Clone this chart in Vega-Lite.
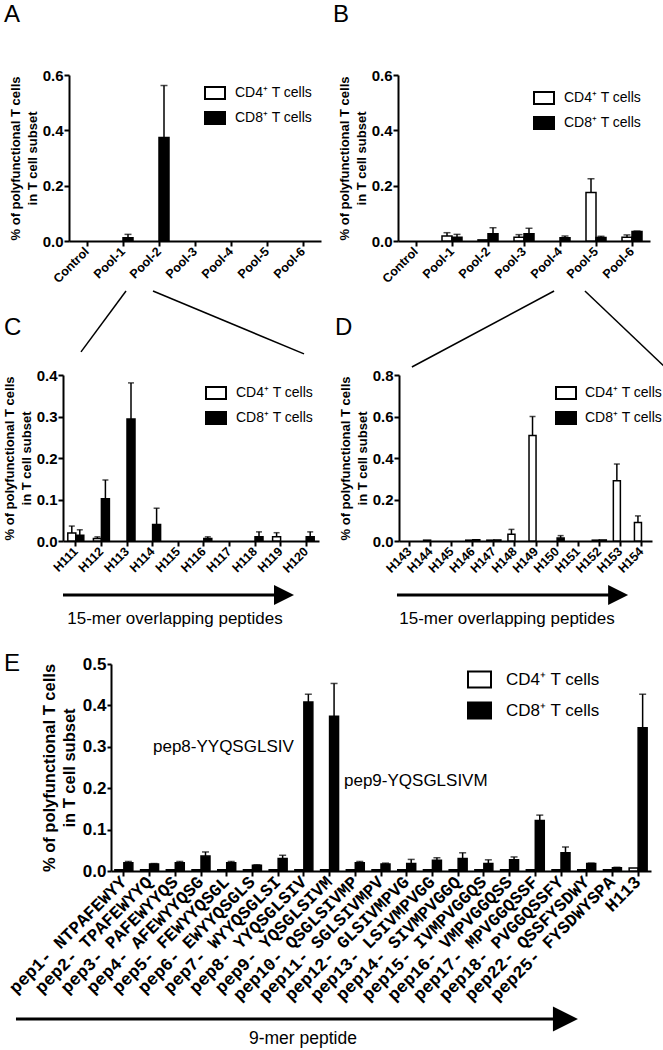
{
"$schema": "https://vega.github.io/schema/vega-lite/v6.json",
"background": "white",
"padding": {"left": 3, "top": 3, "right": 0, "bottom": 0},
"config": {
 "view": {"stroke": null},
 "font": "Liberation Sans",
 "axis": {"domainColor": "black", "domainWidth": 2, "tickColor": "black", "tickWidth": 2, "tickSize": 5, "labelColor": "black", "labelFontWeight": "bold", "titleColor": "black", "titleFontWeight": "bold", "grid": false, "labelFont": "Liberation Sans", "titleFont": "Liberation Sans"},
 "legend": {"padding": 0, "labelColor": "black", "labelFont": "Liberation Sans", "symbolStrokeColor": "black", "symbolStrokeWidth": 2},
 "text": {"color": "black"}
},
"datasets": {
 "A": [
  {"cat": "Control", "cell": "CD4⁺ T cells", "v": 0, "hi": 0}, {"cat": "Control", "cell": "CD8⁺ T cells", "v": 0, "hi": 0},
  {"cat": "Pool-1", "cell": "CD4⁺ T cells", "v": 0, "hi": 0}, {"cat": "Pool-1", "cell": "CD8⁺ T cells", "v": 0.012, "hi": 0.024},
  {"cat": "Pool-2", "cell": "CD4⁺ T cells", "v": 0, "hi": 0}, {"cat": "Pool-2", "cell": "CD8⁺ T cells", "v": 0.374, "hi": 0.562},
  {"cat": "Pool-3", "cell": "CD4⁺ T cells", "v": 0, "hi": 0}, {"cat": "Pool-3", "cell": "CD8⁺ T cells", "v": 0, "hi": 0},
  {"cat": "Pool-4", "cell": "CD4⁺ T cells", "v": 0, "hi": 0}, {"cat": "Pool-4", "cell": "CD8⁺ T cells", "v": 0, "hi": 0},
  {"cat": "Pool-5", "cell": "CD4⁺ T cells", "v": 0, "hi": 0}, {"cat": "Pool-5", "cell": "CD8⁺ T cells", "v": 0, "hi": 0},
  {"cat": "Pool-6", "cell": "CD4⁺ T cells", "v": 0, "hi": 0}, {"cat": "Pool-6", "cell": "CD8⁺ T cells", "v": 0, "hi": 0}
 ],
 "B": [
  {"cat": "Control", "cell": "CD4⁺ T cells", "v": 0, "hi": 0}, {"cat": "Control", "cell": "CD8⁺ T cells", "v": 0, "hi": 0},
  {"cat": "Pool-1", "cell": "CD4⁺ T cells", "v": 0.018, "hi": 0.030}, {"cat": "Pool-1", "cell": "CD8⁺ T cells", "v": 0.014, "hi": 0.024},
  {"cat": "Pool-2", "cell": "CD4⁺ T cells", "v": 0.004, "hi": 0.004}, {"cat": "Pool-2", "cell": "CD8⁺ T cells", "v": 0.026, "hi": 0.048},
  {"cat": "Pool-3", "cell": "CD4⁺ T cells", "v": 0.014, "hi": 0.023}, {"cat": "Pool-3", "cell": "CD8⁺ T cells", "v": 0.026, "hi": 0.046},
  {"cat": "Pool-4", "cell": "CD4⁺ T cells", "v": 0, "hi": 0}, {"cat": "Pool-4", "cell": "CD8⁺ T cells", "v": 0.012, "hi": 0.018},
  {"cat": "Pool-5", "cell": "CD4⁺ T cells", "v": 0.175, "hi": 0.225}, {"cat": "Pool-5", "cell": "CD8⁺ T cells", "v": 0.013, "hi": 0.017},
  {"cat": "Pool-6", "cell": "CD4⁺ T cells", "v": 0.014, "hi": 0.022}, {"cat": "Pool-6", "cell": "CD8⁺ T cells", "v": 0.034, "hi": 0.036}
 ],
 "C": [
  {"cat": "H111", "cell": "CD4⁺ T cells", "v": 0.019, "hi": 0.036}, {"cat": "H111", "cell": "CD8⁺ T cells", "v": 0.014, "hi": 0.027},
  {"cat": "H112", "cell": "CD4⁺ T cells", "v": 0.006, "hi": 0.010}, {"cat": "H112", "cell": "CD8⁺ T cells", "v": 0.102, "hi": 0.147},
  {"cat": "H113", "cell": "CD4⁺ T cells", "v": 0, "hi": 0}, {"cat": "H113", "cell": "CD8⁺ T cells", "v": 0.294, "hi": 0.381},
  {"cat": "H114", "cell": "CD4⁺ T cells", "v": 0, "hi": 0}, {"cat": "H114", "cell": "CD8⁺ T cells", "v": 0.040, "hi": 0.079},
  {"cat": "H115", "cell": "CD4⁺ T cells", "v": 0, "hi": 0}, {"cat": "H115", "cell": "CD8⁺ T cells", "v": 0, "hi": 0},
  {"cat": "H116", "cell": "CD4⁺ T cells", "v": 0, "hi": 0}, {"cat": "H116", "cell": "CD8⁺ T cells", "v": 0.006, "hi": 0.010},
  {"cat": "H117", "cell": "CD4⁺ T cells", "v": 0, "hi": 0}, {"cat": "H117", "cell": "CD8⁺ T cells", "v": 0, "hi": 0},
  {"cat": "H118", "cell": "CD4⁺ T cells", "v": 0, "hi": 0}, {"cat": "H118", "cell": "CD8⁺ T cells", "v": 0.010, "hi": 0.022},
  {"cat": "H119", "cell": "CD4⁺ T cells", "v": 0.010, "hi": 0.020}, {"cat": "H119", "cell": "CD8⁺ T cells", "v": 0, "hi": 0},
  {"cat": "H120", "cell": "CD4⁺ T cells", "v": 0, "hi": 0}, {"cat": "H120", "cell": "CD8⁺ T cells", "v": 0.010, "hi": 0.022}
 ],
 "D": [
  {"cat": "H143", "cell": "CD4⁺ T cells", "v": 0, "hi": 0}, {"cat": "H143", "cell": "CD8⁺ T cells", "v": 0, "hi": 0},
  {"cat": "H144", "cell": "CD4⁺ T cells", "v": 0.004, "hi": 0.004}, {"cat": "H144", "cell": "CD8⁺ T cells", "v": 0, "hi": 0},
  {"cat": "H145", "cell": "CD4⁺ T cells", "v": 0, "hi": 0}, {"cat": "H145", "cell": "CD8⁺ T cells", "v": 0, "hi": 0},
  {"cat": "H146", "cell": "CD4⁺ T cells", "v": 0.004, "hi": 0.004}, {"cat": "H146", "cell": "CD8⁺ T cells", "v": 0.006, "hi": 0.006},
  {"cat": "H147", "cell": "CD4⁺ T cells", "v": 0.004, "hi": 0.004}, {"cat": "H147", "cell": "CD8⁺ T cells", "v": 0.005, "hi": 0.005},
  {"cat": "H148", "cell": "CD4⁺ T cells", "v": 0.032, "hi": 0.056}, {"cat": "H148", "cell": "CD8⁺ T cells", "v": 0, "hi": 0},
  {"cat": "H149", "cell": "CD4⁺ T cells", "v": 0.508, "hi": 0.600}, {"cat": "H149", "cell": "CD8⁺ T cells", "v": 0, "hi": 0},
  {"cat": "H150", "cell": "CD4⁺ T cells", "v": 0, "hi": 0}, {"cat": "H150", "cell": "CD8⁺ T cells", "v": 0.014, "hi": 0.026},
  {"cat": "H151", "cell": "CD4⁺ T cells", "v": 0, "hi": 0}, {"cat": "H151", "cell": "CD8⁺ T cells", "v": 0, "hi": 0},
  {"cat": "H152", "cell": "CD4⁺ T cells", "v": 0.004, "hi": 0.004}, {"cat": "H152", "cell": "CD8⁺ T cells", "v": 0.005, "hi": 0.005},
  {"cat": "H153", "cell": "CD4⁺ T cells", "v": 0.290, "hi": 0.371}, {"cat": "H153", "cell": "CD8⁺ T cells", "v": 0, "hi": 0},
  {"cat": "H154", "cell": "CD4⁺ T cells", "v": 0.089, "hi": 0.121}, {"cat": "H154", "cell": "CD8⁺ T cells", "v": 0, "hi": 0}
 ],
 "E": [
  {"cat": "pep1- NTPAFEWYY", "cell": "CD4⁺ T cells", "v": 0.003, "hi": 0.003}, {"cat": "pep1- NTPAFEWYY", "cell": "CD8⁺ T cells", "v": 0.020, "hi": 0.023},
  {"cat": "pep2- TPAFEWYYQ", "cell": "CD4⁺ T cells", "v": 0.003, "hi": 0.003}, {"cat": "pep2- TPAFEWYYQ", "cell": "CD8⁺ T cells", "v": 0.017, "hi": 0.018},
  {"cat": "pep3- PAFEWYYQS", "cell": "CD4⁺ T cells", "v": 0.003, "hi": 0.003}, {"cat": "pep3- PAFEWYYQS", "cell": "CD8⁺ T cells", "v": 0.020, "hi": 0.023},
  {"cat": "pep4- AFEWYYQSG", "cell": "CD4⁺ T cells", "v": 0.003, "hi": 0.003}, {"cat": "pep4- AFEWYYQSG", "cell": "CD8⁺ T cells", "v": 0.036, "hi": 0.046},
  {"cat": "pep5- FEWYYQSGL", "cell": "CD4⁺ T cells", "v": 0.003, "hi": 0.003}, {"cat": "pep5- FEWYYQSGL", "cell": "CD8⁺ T cells", "v": 0.020, "hi": 0.023},
  {"cat": "pep6- EWYYQSGLS", "cell": "CD4⁺ T cells", "v": 0.003, "hi": 0.003}, {"cat": "pep6- EWYYQSGLS", "cell": "CD8⁺ T cells", "v": 0.014, "hi": 0.015},
  {"cat": "pep7- WYYQSGLSI", "cell": "CD4⁺ T cells", "v": 0.003, "hi": 0.003}, {"cat": "pep7- WYYQSGLSI", "cell": "CD8⁺ T cells", "v": 0.030, "hi": 0.038},
  {"cat": "pep8- YYQSGLSIV", "cell": "CD4⁺ T cells", "v": 0.003, "hi": 0.003}, {"cat": "pep8- YYQSGLSIV", "cell": "CD8⁺ T cells", "v": 0.408, "hi": 0.427},
  {"cat": "pep9- YQSGLSIVM", "cell": "CD4⁺ T cells", "v": 0.003, "hi": 0.003}, {"cat": "pep9- YQSGLSIVM", "cell": "CD8⁺ T cells", "v": 0.374, "hi": 0.453},
  {"cat": "pep10- QSGLSIVMP", "cell": "CD4⁺ T cells", "v": 0.003, "hi": 0.003}, {"cat": "pep10- QSGLSIVMP", "cell": "CD8⁺ T cells", "v": 0.020, "hi": 0.023},
  {"cat": "pep11- SGLSIVMPV", "cell": "CD4⁺ T cells", "v": 0.003, "hi": 0.003}, {"cat": "pep11- SGLSIVMPV", "cell": "CD8⁺ T cells", "v": 0.017, "hi": 0.019},
  {"cat": "pep12- GLSIVMPVG", "cell": "CD4⁺ T cells", "v": 0.003, "hi": 0.003}, {"cat": "pep12- GLSIVMPVG", "cell": "CD8⁺ T cells", "v": 0.018, "hi": 0.028},
  {"cat": "pep13- LSIVMPVGG", "cell": "CD4⁺ T cells", "v": 0.003, "hi": 0.003}, {"cat": "pep13- LSIVMPVGG", "cell": "CD8⁺ T cells", "v": 0.026, "hi": 0.032},
  {"cat": "pep14- SIVMPVGGQ", "cell": "CD4⁺ T cells", "v": 0.003, "hi": 0.003}, {"cat": "pep14- SIVMPVGGQ", "cell": "CD8⁺ T cells", "v": 0.030, "hi": 0.044},
  {"cat": "pep15- IVMPVGGQS", "cell": "CD4⁺ T cells", "v": 0.003, "hi": 0.003}, {"cat": "pep15- IVMPVGGQS", "cell": "CD8⁺ T cells", "v": 0.018, "hi": 0.027},
  {"cat": "pep16- VMPVGGQSS", "cell": "CD4⁺ T cells", "v": 0.003, "hi": 0.003}, {"cat": "pep16- VMPVGGQSS", "cell": "CD8⁺ T cells", "v": 0.027, "hi": 0.034},
  {"cat": "pep17- MPVGGQSSF", "cell": "CD4⁺ T cells", "v": 0.003, "hi": 0.003}, {"cat": "pep17- MPVGGQSSF", "cell": "CD8⁺ T cells", "v": 0.122, "hi": 0.135},
  {"cat": "pep18- PVGGQSSFY", "cell": "CD4⁺ T cells", "v": 0.003, "hi": 0.003}, {"cat": "pep18- PVGGQSSFY", "cell": "CD8⁺ T cells", "v": 0.044, "hi": 0.058},
  {"cat": "pep22- QSSFYSDWY", "cell": "CD4⁺ T cells", "v": 0.003, "hi": 0.003}, {"cat": "pep22- QSSFYSDWY", "cell": "CD8⁺ T cells", "v": 0.018, "hi": 0.019},
  {"cat": "pep25- FYSDWYSPA", "cell": "CD4⁺ T cells", "v": 0.003, "hi": 0.003}, {"cat": "pep25- FYSDWYSPA", "cell": "CD8⁺ T cells", "v": 0.008, "hi": 0.009},
  {"cat": "H113", "cell": "CD4⁺ T cells", "v": 0.007, "hi": 0.007}, {"cat": "H113", "cell": "CD8⁺ T cells", "v": 0.346, "hi": 0.427}
 ],
 "dA": [{"kind": "letter", "x": -0.258, "y": 1.319, "label": "A"}],
 "dB": [{"kind": "letter", "x": -0.258, "y": 1.319, "label": "B"}],
 "dC": [
  {"kind": "letter", "x": -0.26, "y": 1.241, "label": "C"},
  {"kind": "line", "x": 0.228, "y": 1.506, "x2": 0.048, "y2": 1.139},
  {"kind": "line", "x": 0.336, "y": 1.506, "x2": 0.94, "y2": 1.127},
  {"kind": "arrow", "x": -0.024, "y": -0.325, "x2": 0.83, "y2": -0.325},
  {"kind": "head", "x": 0.86, "y": -0.325},
  {"kind": "caption", "x": 0.424, "y": -0.470, "label": "15-mer overlapping peptides"}
 ],
 "dD": [
  {"kind": "letter", "x": -0.253, "y": 1.241, "label": "D"},
  {"kind": "line", "x": 0.613, "y": 1.506, "x2": 0.051, "y2": 1.048},
  {"kind": "line", "x": 0.735, "y": 1.506, "x2": 1.047, "y2": 1.054},
  {"kind": "arrow", "x": -0.008, "y": -0.325, "x2": 0.85, "y2": -0.325},
  {"kind": "head", "x": 0.866, "y": -0.325},
  {"kind": "caption", "x": 0.427, "y": -0.470, "label": "15-mer overlapping peptides"}
 ],
 "dE": [
  {"kind": "letter", "x": -0.1117, "y": 0.966, "label": "E"},
  {"kind": "note", "x": 0.1443, "y": 0.599, "label": "pep8-YYQSGLSIV"},
  {"kind": "note", "x": 0.4725, "y": 0.435, "label": "pep9-YQSGLSIVM"},
  {"kind": "arrow", "x": -0.0911, "y": -0.715, "x2": 0.842, "y2": -0.715},
  {"kind": "head", "x": 0.853, "y": -0.715},
  {"kind": "caption", "x": 0.402, "y": -0.812, "label": "9-mer peptide"}
 ]
},
"resolve": {"scale": {"fill": "independent", "xOffset": "independent"}, "legend": {"fill": "independent"}},
"spacing": 24,
"vconcat": [
 {
  "resolve": {"scale": {"fill": "independent", "xOffset": "independent"}, "legend": {"fill": "independent"}},
  "spacing": 4,
  "vconcat": [
   {
    "resolve": {"scale": {"fill": "independent", "xOffset": "independent"}, "legend": {"fill": "independent"}},
    "spacing": 11,
    "hconcat": [
     {
      "width": 252, "height": 166,
      "resolve": {"scale": {"x": "independent", "y": "independent", "xOffset": "independent"}},
      "layer": [
       {
        "data": {"name": "A"},
        "encoding": {
         "x": {"field": "cat", "type": "nominal", "scale": {"domain": ["Control", "Pool-1", "Pool-2", "Pool-3", "Pool-4", "Pool-5", "Pool-6"], "paddingInner": 0, "paddingOuter": 0}, "axis": {"title": null, "labelAngle": -45, "labelAlign": "right", "labelBaseline": "middle", "labelFontSize": 12.5, "labelPadding": 3, "labelOverlap": false, "labelLimit": 300}},
         "xOffset": {"field": "cell", "type": "nominal", "scale": {"domain": ["CD4⁺ T cells", "CD8⁺ T cells"], "paddingInner": 0, "paddingOuter": 0.8}}
        },
        "layer": [
         {"transform": [{"filter": "datum.v > 0"}], "mark": {"type": "bar", "stroke": "black", "strokeWidth": 1.5}, "encoding": {
           "y": {"field": "v", "type": "quantitative", "scale": {"domain": [0, 0.6], "nice": false}, "axis": {"title": ["% of polyfunctional T cells", "in T cell subset"], "values": [0, 0.2, 0.4, 0.6], "format": ".1f", "labelFontSize": 15, "labelPadding": 1, "titleFontSize": 13, "titleLineHeight": 17, "titlePadding": 3}},
           "fill": {"field": "cell", "type": "nominal", "scale": {"domain": ["CD4⁺ T cells", "CD8⁺ T cells"], "range": ["white", "black"]}, "legend": {"title": null, "orient": "none", "legendX": 135, "legendY": 7, "symbolType": "M-1,-0.6H1V0.6H-1Z", "symbolSize": 400, "labelFontSize": 14, "labelOffset": 9, "rowPadding": 4}}}},
         {"transform": [{"filter": "datum.hi > datum.v"}], "mark": {"type": "rule", "color": "black", "strokeWidth": 1.5}, "encoding": {"y": {"field": "v", "type": "quantitative"}, "y2": {"field": "hi"}}},
         {"transform": [{"filter": "datum.hi > datum.v"}], "mark": {"type": "tick", "orient": "horizontal", "color": "black", "thickness": 1.5, "size": 7}, "encoding": {"y": {"field": "hi", "type": "quantitative"}}}
        ]
       },
       {
        "data": {"name": "dA"},
        "encoding": {
         "x": {"field": "x", "type": "quantitative", "scale": {"domain": [0, 1], "nice": false, "zero": false}, "axis": null},
         "y": {"field": "y", "type": "quantitative", "scale": {"domain": [0, 1], "nice": false, "zero": false}, "axis": null}
        },
        "layer": [
         {"transform": [{"filter": "datum.kind == 'letter'"}], "mark": {"type": "text", "align": "left", "baseline": "alphabetic", "fontSize": 24}, "encoding": {"text": {"field": "label"}}}
        ]
       }
      ]
     },
     {
      "width": 252, "height": 166,
      "resolve": {"scale": {"x": "independent", "y": "independent", "xOffset": "independent"}},
      "layer": [
       {
        "data": {"name": "B"},
        "encoding": {
         "x": {"field": "cat", "type": "nominal", "scale": {"domain": ["Control", "Pool-1", "Pool-2", "Pool-3", "Pool-4", "Pool-5", "Pool-6"], "paddingInner": 0, "paddingOuter": 0}, "axis": {"title": null, "labelAngle": -45, "labelAlign": "right", "labelBaseline": "middle", "labelFontSize": 12.5, "labelPadding": 3, "labelOverlap": false, "labelLimit": 300}},
         "xOffset": {"field": "cell", "type": "nominal", "scale": {"domain": ["CD4⁺ T cells", "CD8⁺ T cells"], "paddingInner": 0, "paddingOuter": 0.8}}
        },
        "layer": [
         {"transform": [{"filter": "datum.v > 0"}], "mark": {"type": "bar", "stroke": "black", "strokeWidth": 1.5}, "encoding": {
           "y": {"field": "v", "type": "quantitative", "scale": {"domain": [0, 0.6], "nice": false}, "axis": {"title": ["% of polyfunctional T cells", "in T cell subset"], "values": [0, 0.2, 0.4, 0.6], "format": ".1f", "labelFontSize": 15, "labelPadding": 1, "titleFontSize": 13, "titleLineHeight": 17, "titlePadding": 3}},
           "fill": {"field": "cell", "type": "nominal", "scale": {"domain": ["CD4⁺ T cells", "CD8⁺ T cells"], "range": ["white", "black"]}, "legend": {"title": null, "orient": "none", "legendX": 135, "legendY": 12, "symbolType": "M-1,-0.6H1V0.6H-1Z", "symbolSize": 400, "labelFontSize": 14, "labelOffset": 9, "rowPadding": 4}}}},
         {"transform": [{"filter": "datum.hi > datum.v"}], "mark": {"type": "rule", "color": "black", "strokeWidth": 1.5}, "encoding": {"y": {"field": "v", "type": "quantitative"}, "y2": {"field": "hi"}}},
         {"transform": [{"filter": "datum.hi > datum.v"}], "mark": {"type": "tick", "orient": "horizontal", "color": "black", "thickness": 1.5, "size": 7}, "encoding": {"y": {"field": "hi", "type": "quantitative"}}}
        ]
       },
       {
        "data": {"name": "dB"},
        "encoding": {
         "x": {"field": "x", "type": "quantitative", "scale": {"domain": [0, 1], "nice": false, "zero": false}, "axis": null},
         "y": {"field": "y", "type": "quantitative", "scale": {"domain": [0, 1], "nice": false, "zero": false}, "axis": null}
        },
        "layer": [
         {"transform": [{"filter": "datum.kind == 'letter'"}], "mark": {"type": "text", "align": "left", "baseline": "alphabetic", "fontSize": 24}, "encoding": {"text": {"field": "label"}}}
        ]
       }
      ]
     }
    ]
   },
   {
    "resolve": {"scale": {"fill": "independent", "xOffset": "independent"}, "legend": {"fill": "independent"}},
    "spacing": 9,
    "hconcat": [
     {
      "width": 250, "height": 166,
      "resolve": {"scale": {"x": "independent", "y": "independent", "xOffset": "independent"}},
      "layer": [
       {
        "data": {"name": "C"},
        "encoding": {
         "x": {"field": "cat", "type": "nominal", "scale": {"domain": ["H111", "H112", "H113", "H114", "H115", "H116", "H117", "H118", "H119", "H120"], "range": [-6, 250], "paddingInner": 0, "paddingOuter": 0}, "axis": {"title": null, "labelAngle": -45, "labelAlign": "right", "labelBaseline": "middle", "labelFontSize": 12.5, "labelPadding": 3, "labelOverlap": false, "labelLimit": 300}},
         "xOffset": {"field": "cell", "type": "nominal", "scale": {"domain": ["CD4⁺ T cells", "CD8⁺ T cells"], "paddingInner": 0, "paddingOuter": 0.6}}
        },
        "layer": [
         {"transform": [{"filter": "datum.v > 0"}], "mark": {"type": "bar", "stroke": "black", "strokeWidth": 1.5}, "encoding": {
           "y": {"field": "v", "type": "quantitative", "scale": {"domain": [0, 0.4], "nice": false}, "axis": {"title": ["% of polyfunctional T cells", "in T cell subset"], "values": [0, 0.1, 0.2, 0.3, 0.4], "format": ".1f", "offset": 6, "labelFontSize": 15, "labelPadding": 1, "titleFontSize": 13, "titleLineHeight": 17, "titlePadding": 3}},
           "fill": {"field": "cell", "type": "nominal", "scale": {"domain": ["CD4⁺ T cells", "CD8⁺ T cells"], "range": ["white", "black"]}, "legend": {"title": null, "orient": "none", "legendX": 136, "legendY": 7, "symbolType": "M-1,-0.6H1V0.6H-1Z", "symbolSize": 400, "labelFontSize": 14, "labelOffset": 9, "rowPadding": 4}}}},
         {"transform": [{"filter": "datum.hi > datum.v"}], "mark": {"type": "rule", "color": "black", "strokeWidth": 1.5}, "encoding": {"y": {"field": "v", "type": "quantitative"}, "y2": {"field": "hi"}}},
         {"transform": [{"filter": "datum.hi > datum.v"}], "mark": {"type": "tick", "orient": "horizontal", "color": "black", "thickness": 1.5, "size": 6}, "encoding": {"y": {"field": "hi", "type": "quantitative"}}}
        ]
       },
       {
        "data": {"name": "dC"},
        "encoding": {
         "x": {"field": "x", "type": "quantitative", "scale": {"domain": [0, 1], "nice": false, "zero": false}, "axis": null},
         "y": {"field": "y", "type": "quantitative", "scale": {"domain": [0, 1], "nice": false, "zero": false}, "axis": null}
        },
        "layer": [
         {"transform": [{"filter": "datum.kind == 'letter'"}], "mark": {"type": "text", "align": "left", "baseline": "alphabetic", "fontSize": 24}, "encoding": {"text": {"field": "label"}}},
         {"transform": [{"filter": "datum.kind == 'line'"}], "mark": {"type": "rule", "color": "black", "strokeWidth": 1.5}, "encoding": {"x2": {"field": "x2"}, "y2": {"field": "y2"}}},
         {"transform": [{"filter": "datum.kind == 'arrow'"}], "mark": {"type": "rule", "color": "black", "strokeWidth": 3}, "encoding": {"x2": {"field": "x2"}, "y2": {"field": "y2"}}},
         {"transform": [{"filter": "datum.kind == 'head'"}], "mark": {"type": "point", "shape": "M-1,-1L1,0L-1,1Z", "size": 400, "filled": true, "color": "black", "opacity": 1}, "encoding": {}},
         {"transform": [{"filter": "datum.kind == 'caption'"}], "mark": {"type": "text", "align": "center", "baseline": "middle", "fontSize": 17}, "encoding": {"text": {"field": "label"}}}
        ]
       }
      ]
     },
     {
      "width": 253, "height": 166,
      "resolve": {"scale": {"x": "independent", "y": "independent", "xOffset": "independent"}},
      "layer": [
       {
        "data": {"name": "D"},
        "encoding": {
         "x": {"field": "cat", "type": "nominal", "scale": {"domain": ["H143", "H144", "H145", "H146", "H147", "H148", "H149", "H150", "H151", "H152", "H153", "H154"], "paddingInner": 0, "paddingOuter": 0}, "axis": {"title": null, "labelAngle": -45, "labelAlign": "right", "labelBaseline": "middle", "labelFontSize": 12.5, "labelPadding": 3, "labelOverlap": false, "labelLimit": 300}},
         "xOffset": {"field": "cell", "type": "nominal", "scale": {"domain": ["CD4⁺ T cells", "CD8⁺ T cells"], "paddingInner": 0, "paddingOuter": 0.5}}
        },
        "layer": [
         {"transform": [{"filter": "datum.v > 0"}], "mark": {"type": "bar", "stroke": "black", "strokeWidth": 1.5}, "encoding": {
           "y": {"field": "v", "type": "quantitative", "scale": {"domain": [0, 0.8], "nice": false}, "axis": {"title": ["% of polyfunctional T cells", "in T cell subset"], "values": [0, 0.2, 0.4, 0.6, 0.8], "format": ".1f", "labelFontSize": 15, "labelPadding": 1, "titleFontSize": 13, "titleLineHeight": 17, "titlePadding": 3}},
           "fill": {"field": "cell", "type": "nominal", "scale": {"domain": ["CD4⁺ T cells", "CD8⁺ T cells"], "range": ["white", "black"]}, "legend": {"title": null, "orient": "none", "legendX": 156, "legendY": 7, "symbolType": "M-1,-0.6H1V0.6H-1Z", "symbolSize": 400, "labelFontSize": 14, "labelOffset": 8, "rowPadding": 4}}}},
         {"transform": [{"filter": "datum.hi > datum.v"}], "mark": {"type": "rule", "color": "black", "strokeWidth": 1.5}, "encoding": {"y": {"field": "v", "type": "quantitative"}, "y2": {"field": "hi"}}},
         {"transform": [{"filter": "datum.hi > datum.v"}], "mark": {"type": "tick", "orient": "horizontal", "color": "black", "thickness": 1.5, "size": 6}, "encoding": {"y": {"field": "hi", "type": "quantitative"}}}
        ]
       },
       {
        "data": {"name": "dD"},
        "encoding": {
         "x": {"field": "x", "type": "quantitative", "scale": {"domain": [0, 1], "nice": false, "zero": false}, "axis": null},
         "y": {"field": "y", "type": "quantitative", "scale": {"domain": [0, 1], "nice": false, "zero": false}, "axis": null}
        },
        "layer": [
         {"transform": [{"filter": "datum.kind == 'letter'"}], "mark": {"type": "text", "align": "left", "baseline": "alphabetic", "fontSize": 24}, "encoding": {"text": {"field": "label"}}},
         {"transform": [{"filter": "datum.kind == 'line'"}], "mark": {"type": "rule", "color": "black", "strokeWidth": 1.5}, "encoding": {"x2": {"field": "x2"}, "y2": {"field": "y2"}}},
         {"transform": [{"filter": "datum.kind == 'arrow'"}], "mark": {"type": "rule", "color": "black", "strokeWidth": 3}, "encoding": {"x2": {"field": "x2"}, "y2": {"field": "y2"}}},
         {"transform": [{"filter": "datum.kind == 'head'"}], "mark": {"type": "point", "shape": "M-1,-1L1,0L-1,1Z", "size": 400, "filled": true, "color": "black", "opacity": 1}, "encoding": {}},
         {"transform": [{"filter": "datum.kind == 'caption'"}], "mark": {"type": "text", "align": "center", "baseline": "middle", "fontSize": 17}, "encoding": {"text": {"field": "label"}}}
        ]
       }
      ]
     }
    ]
   }
  ]
 },
 {
  "resolve": {"scale": {"fill": "independent", "xOffset": "independent"}, "legend": {"fill": "independent"}},
  "hconcat": [
   {
    "width": 582, "height": 207,
    "resolve": {"scale": {"x": "independent", "y": "independent", "xOffset": "independent"}},
    "layer": [
     {
      "data": {"name": "E"},
      "encoding": {
       "x": {"field": "cat", "type": "nominal", "scale": {"domain": ["pep1- NTPAFEWYY", "pep2- TPAFEWYYQ", "pep3- PAFEWYYQS", "pep4- AFEWYYQSG", "pep5- FEWYYQSGL", "pep6- EWYYQSGLS", "pep7- WYYQSGLSI", "pep8- YYQSGLSIV", "pep9- YQSGLSIVM", "pep10- QSGLSIVMP", "pep11- SGLSIVMPV", "pep12- GLSIVMPVG", "pep13- LSIVMPVGG", "pep14- SIVMPVGGQ", "pep15- IVMPVGGQS", "pep16- VMPVGGQSS", "pep17- MPVGGQSSF", "pep18- PVGGQSSFY", "pep22- QSSFYSDWY", "pep25- FYSDWYSPA", "H113"], "range": [42, 582], "paddingInner": 0, "paddingOuter": 0}, "axis": {"title": null, "labelAngle": -45, "labelAlign": "right", "labelBaseline": "middle", "labelFont": "Liberation Mono", "labelFontSize": 17.5, "labelPadding": 3, "labelOverlap": false, "labelLimit": 400}},
       "xOffset": {"field": "cell", "type": "nominal", "scale": {"domain": ["CD4⁺ T cells", "CD8⁺ T cells"], "paddingInner": 0, "paddingOuter": 0.43}}
      },
      "layer": [
       {"transform": [{"filter": "datum.v > 0"}], "mark": {"type": "bar", "stroke": "black", "strokeWidth": 1.5}, "encoding": {
         "y": {"field": "v", "type": "quantitative", "scale": {"domain": [0, 0.5], "nice": false}, "axis": {"title": ["% of polyfunctional T cells", "in T cell subset"], "values": [0, 0.1, 0.2, 0.3, 0.4, 0.5], "format": ".1f", "offset": -42, "labelFontSize": 17, "labelPadding": 1, "tickSize": 4, "titleFontSize": 16.5, "titleLineHeight": 20, "titlePadding": 5}},
         "fill": {"field": "cell", "type": "nominal", "scale": {"domain": ["CD4⁺ T cells", "CD8⁺ T cells"], "range": ["white", "black"]}, "legend": {"title": null, "orient": "none", "legendX": 398, "legendY": 3, "symbolType": "M-1,-0.7H1V0.7H-1Z", "symbolSize": 529, "labelFontSize": 17, "labelOffset": 14, "rowPadding": 6}}}},
       {"transform": [{"filter": "datum.hi > datum.v"}], "mark": {"type": "rule", "color": "black", "strokeWidth": 1.5}, "encoding": {"y": {"field": "v", "type": "quantitative"}, "y2": {"field": "hi"}}},
       {"transform": [{"filter": "datum.hi > datum.v"}], "mark": {"type": "tick", "orient": "horizontal", "color": "black", "thickness": 1.5, "size": 7}, "encoding": {"y": {"field": "hi", "type": "quantitative"}}}
      ]
     },
     {
      "data": {"name": "dE"},
      "encoding": {
       "x": {"field": "x", "type": "quantitative", "scale": {"domain": [0, 1], "nice": false, "zero": false}, "axis": null},
       "y": {"field": "y", "type": "quantitative", "scale": {"domain": [0, 1], "nice": false, "zero": false}, "axis": null}
      },
      "layer": [
       {"transform": [{"filter": "datum.kind == 'letter'"}], "mark": {"type": "text", "align": "left", "baseline": "alphabetic", "fontSize": 24}, "encoding": {"text": {"field": "label"}}},
       {"transform": [{"filter": "datum.kind == 'note'"}], "mark": {"type": "text", "align": "left", "baseline": "middle", "fontSize": 17}, "encoding": {"text": {"field": "label"}}},
       {"transform": [{"filter": "datum.kind == 'arrow'"}], "mark": {"type": "rule", "color": "black", "strokeWidth": 3}, "encoding": {"x2": {"field": "x2"}, "y2": {"field": "y2"}}},
       {"transform": [{"filter": "datum.kind == 'head'"}], "mark": {"type": "point", "shape": "M-1,-1L1,0L-1,1Z", "size": 625, "filled": true, "color": "black", "opacity": 1}, "encoding": {}},
       {"transform": [{"filter": "datum.kind == 'caption'"}], "mark": {"type": "text", "align": "center", "baseline": "middle", "fontSize": 17.5}, "encoding": {"text": {"field": "label"}}}
      ]
     }
    ]
   }
  ]
 }
]
}
